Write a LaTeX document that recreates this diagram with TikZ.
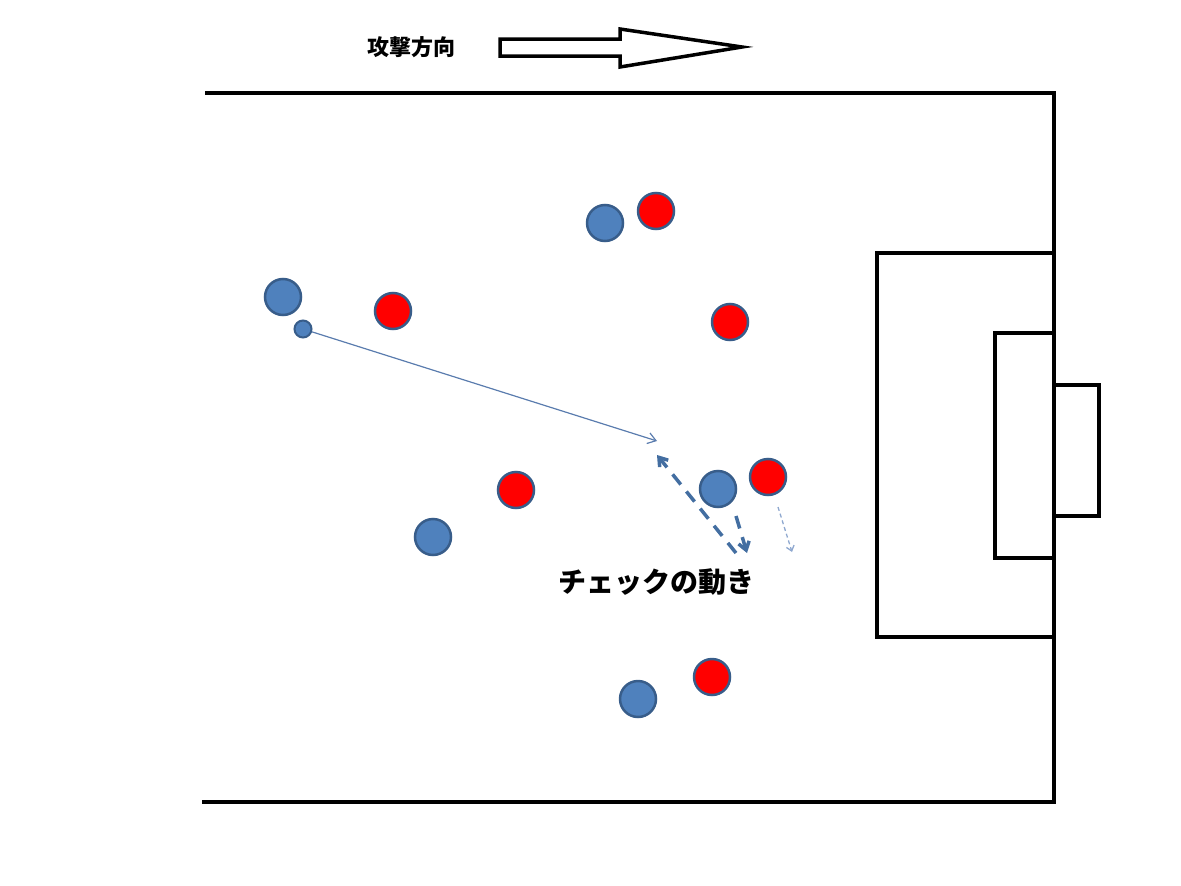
\documentclass[tikz,border=0pt]{standalone}
\usepackage{fontspec}
\newfontfamily\jpfont{Noto Sans CJK JP}
\usetikzlibrary{arrows.meta}

\definecolor{teamblue}{HTML}{4F81BD}
\definecolor{teamred}{HTML}{FF0000}
\definecolor{rim}{HTML}{385D8A}
\definecolor{passline}{HTML}{5A7CAE}
\definecolor{runline}{HTML}{8FA8CF}

\tikzset{
  fieldline/.style={line width=4pt, black},
  blueplayer/.style={circle, fill=teamblue, draw=rim, line width=2.5pt, minimum size=36pt, inner sep=0pt},
  redplayer/.style={blueplayer, fill=teamred},
  ballmark/.style={blueplayer, line width=2pt, minimum size=17pt},
  barb/.tip={Straight Barb[length=8pt, width=11pt]},
}

\begin{document}
\begin{tikzpicture}[x=1pt, y=-1pt]
        \useasboundingbox (0,0) rectangle (1181,886);

        % Attack direction
        \node[font=\jpfont\bfseries\fontsize{22}{22}\selectfont] (title) at (411,47) {攻撃方向};
        \draw[line width=3.5pt, fill=white, line join=miter]
          (500,39) -- (620,39) -- (620,29) -- (742,47) -- (620,67) -- (620,56) -- (500,56) -- cycle;

        % Field
        \draw[fieldline] (205,93) -- (1054,93) -- (1054,802) -- (202,802);
        \draw[fieldline] (1054,253) -- (877,253) -- (877,637) -- (1054,637);
        \draw[fieldline] (1054,333) -- (995,333) -- (995,558) -- (1054,558);
        \draw[fieldline] (1054,385) -- (1099,385) -- (1099,516) -- (1054,516);

        % Players
        \node[blueplayer] (b1) at (605,223) {};
        \node[blueplayer] (b2) at (283,297) {};
        \node[blueplayer] (b3) at (718,489) {};
        \node[blueplayer] (b4) at (433,537) {};
        \node[blueplayer] (b5) at (638,699) {};
        \node[ballmark] (ball) at (303,329) {};

        \node[redplayer] (r1) at (656,211) {};
        \node[redplayer] (r2) at (393,311) {};
        \node[redplayer] (r3) at (730,322) {};
        \node[redplayer] (r4) at (516,490) {};
        \node[redplayer] (r5) at (768,477) {};
        \node[redplayer] (r6) at (712,677) {};

        % Pass
        \coordinate (target) at (657,441);
        \draw[passline, line width=1.2pt, -{barb}] (ball) -- (target);

        % Check movement
        \coordinate (start) at (736,516);
        \coordinate (turn) at (747,553);
        \coordinate (low) at (736,553);
        \coordinate (back) at (657,455);
        \coordinate (dropstart) at (778,507);
        \coordinate (drop) at (792,552);
        \draw[teamblue!85!black, line width=3.5pt, dash pattern=on 13pt off 9pt, -{barb}] (start) -- (turn);
        \draw[teamblue!85!black, line width=3.5pt, dash pattern=on 13pt off 9pt, -{barb}] (low) -- (back);
        \draw[runline, line width=1.3pt, dash pattern=on 4pt off 3pt, -{Straight Barb[length=5pt, width=8pt]}] (dropstart) -- (drop);

        \node[font=\jpfont\bfseries\fontsize{28}{28}\selectfont] (label) at (656,582) {チェックの動き};
    \end{tikzpicture}
\end{document}
